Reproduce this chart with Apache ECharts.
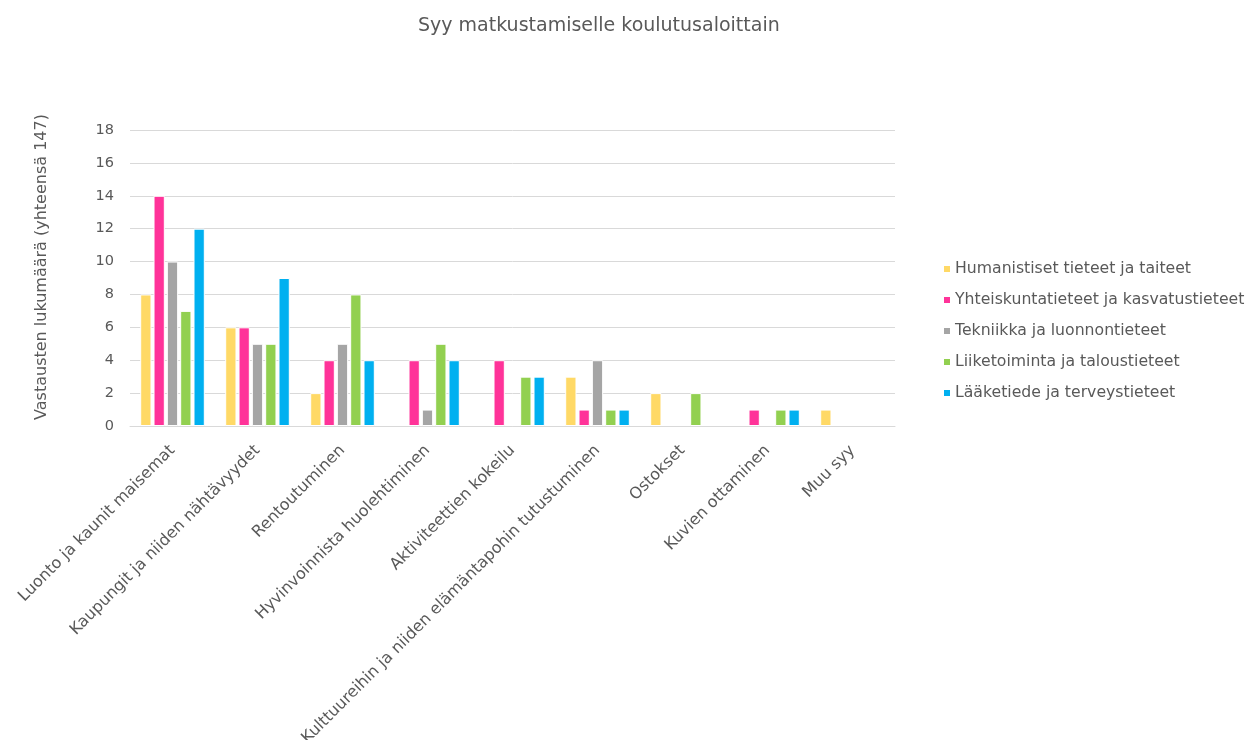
<!DOCTYPE html>
<html><head><meta charset="utf-8">
<script src="https://cdn.jsdelivr.net/npm/echarts@6/dist/echarts.min.js"></script>
<style>html,body{margin:0;padding:0;background:#fff}#c{width:1249px;height:740px}</style>
</head><body><div id="c"></div>
<script>
const categories = ["Luonto ja kaunit maisemat","Kaupungit ja niiden nähtävyydet","Rentoutuminen","Hyvinvoinnista huolehtiminen","Aktiviteettien kokeilu","Kulttuureihin ja niiden elämäntapohin tutustuminen","Ostokset","Kuvien ottaminen","Muu syy"];
const humanistiset = [8,6,2,0,0,3,2,0,1];
const yhteiskunta = [14,6,4,4,4,1,0,1,0];
const tekniikka = [10,5,5,1,0,4,0,0,0];
const liiketoiminta = [7,5,8,5,3,1,2,1,0];
const laaketiede = [12,9,4,4,3,1,0,1,0];
const seriesNames = ["Humanistiset tieteet ja taiteet","Yhteiskuntatieteet ja kasvatustieteet","Tekniikka ja luonnontieteet","Liiketoiminta ja taloustieteet","Lääketiede ja terveystieteet"];
const colors = ["#FFD966","#FF3399","#A5A5A5","#92D050","#00B0F0"];
const values = [humanistiset,yhteiskunta,tekniikka,liiketoiminta,laaketiede];
const font = "DejaVu Sans";
const txt = "#595959";
const chart = echarts.init(document.getElementById('c'));
chart.setOption({
  animation:false,
  textStyle:{fontFamily:font,color:txt},
  title:{text:"Syy matkustamiselle koulutusaloittain",left:413,top:12,textStyle:{fontFamily:font,fontSize:19,fontWeight:'normal',color:txt}},
  legend:{orient:'vertical',left:937,top:256,itemWidth:8,itemHeight:8,itemGap:15,icon:'rect',
    textStyle:{fontFamily:font,fontSize:15.7,color:txt,padding:[0,0,0,-1]},data:seriesNames},
  grid:{left:130,right:354,top:130,bottom:314,containLabel:false,outerBoundsMode:'none'},
  xAxis:{type:'category',data:categories,
    axisLine:{lineStyle:{color:'#D9D9D9'}},axisTick:{show:false},
    axisLabel:{rotate:45,interval:0,fontFamily:font,fontSize:16,color:txt,margin:22}},
  yAxis:{type:'value',min:0,max:18,interval:2,
    name:"Vastausten lukumäärä (yhteensä 147)",nameLocation:'middle',nameGap:80,nameRotate:90,
    nameTextStyle:{fontFamily:font,fontSize:16,color:txt,padding:[0,0,0,22]},
    axisLine:{show:false},axisTick:{show:false},
    splitLine:{lineStyle:{color:'#D9D9D9'}},
    axisLabel:{fontFamily:font,fontSize:14.5,color:txt,margin:16}},
  series: values.map((v,i)=>({name:seriesNames[i],type:'bar',data:v.map(x=>x===0?'-':x),
    itemStyle:{color:colors[i],borderColor:'#fff',borderWidth:1},
    barGap:'18%',barCategoryGap:'24%'}))
});
</script></body></html>
